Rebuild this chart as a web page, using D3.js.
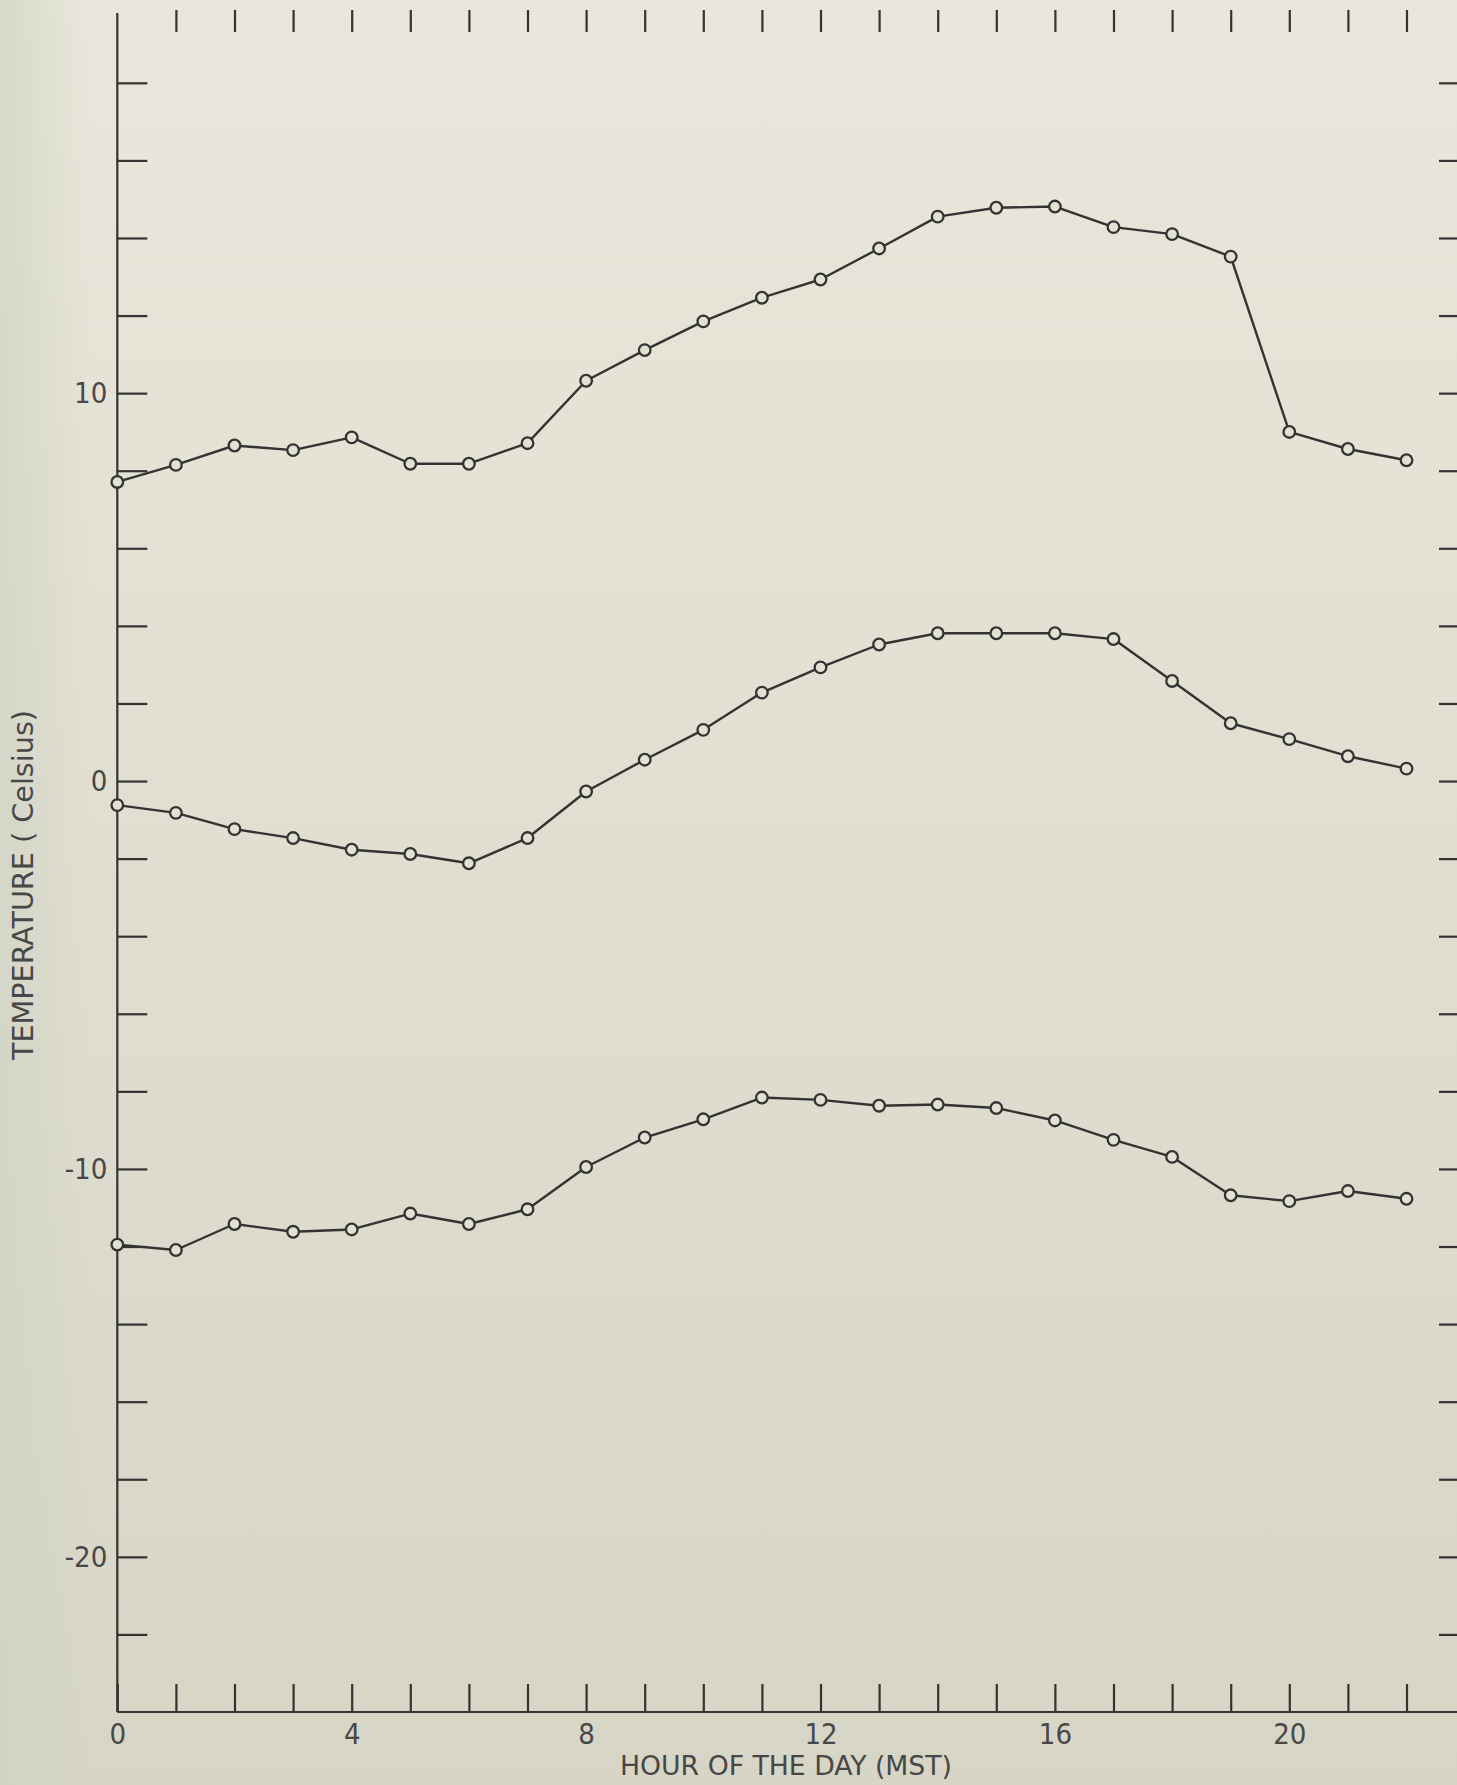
<!DOCTYPE html>
<html>
<head>
<meta charset="utf-8">
<script src="https://cdn.jsdelivr.net/npm/d3@7"></script>
<style>
  html, body { margin: 0; padding: 0; background: #e0dfd1; }
  svg { display: block; }
</style>
</head>
<body>
<svg id="chart" width="1457" height="1785"></svg>
<script>
// ---------- DATA ----------
const hours = [0, 1, 2, 3, 4, 5, 6, 7, 8, 9, 10, 11, 12, 13, 14, 15, 16, 17, 18, 19, 20, 21, 22];

const tempUpper = [7.71, 8.15, 8.65, 8.53, 8.86, 8.18, 8.18, 8.71, 10.32, 11.11, 11.85, 12.46,
                   12.93, 13.73, 14.55, 14.78, 14.81, 14.28, 14.10, 13.52, 9.00, 8.56, 8.27];

const tempMiddle = [-0.62, -0.82, -1.24, -1.47, -1.77, -1.88, -2.12, -1.47, -0.27, 0.55, 1.32, 2.28,
                    2.93, 3.52, 3.81, 3.81, 3.81, 3.66, 2.58, 1.49, 1.08, 0.64, 0.32];

const tempLower = [-11.95, -12.09, -11.42, -11.62, -11.56, -11.15, -11.42, -11.04, -9.95, -9.19, -8.72, -8.16,
                   -8.22, -8.37, -8.34, -8.43, -8.75, -9.25, -9.69, -10.68, -10.83, -10.57, -10.77];

const xTickValues = [1, 2, 3, 4, 5, 6, 7, 8, 9, 10, 11, 12, 13, 14, 15, 16, 17, 18, 19, 20, 21, 22];
const xTickLabels = [0, 4, 8, 12, 16, 20];
const yTickValues = [-22, -20, -18, -16, -14, -12, -10, -8, -6, -4, -2, 0, 2, 4, 6, 8, 10, 12, 14, 16, 18];
const yTickLabels = [-20, -10, 0, 10];

const xTitle = "HOUR OF THE DAY (MST)";
const yTitle = "TEMPERATURE ( Celsius)";

// ---------- DRAWING ----------
const W = 1457, H = 1785;
const FONT = "'Liberation Sans Narrow', 'DejaVu Sans Condensed', sans-serif";
const INK = "#333333";
const TEXT = "#474747";

const svg = d3.select("#chart");

const defs = svg.append("defs");
const grad = defs.append("linearGradient").attr("id", "bg")
  .attr("x1", 0).attr("y1", 0).attr("x2", 0).attr("y2", 1);
grad.append("stop").attr("offset", "0%").attr("stop-color", "#e9e7db");
grad.append("stop").attr("offset", "55%").attr("stop-color", "#dfddcf");
grad.append("stop").attr("offset", "100%").attr("stop-color", "#d6d5c6");
const gradL = defs.append("linearGradient").attr("id", "bgL")
  .attr("x1", 0).attr("y1", 0).attr("x2", 1).attr("y2", 0);
gradL.append("stop").attr("offset", "0%").attr("stop-color", "#cfd3c4").attr("stop-opacity", 0.7);
gradL.append("stop").attr("offset", "100%").attr("stop-color", "#cfd3c4").attr("stop-opacity", 0);

svg.append("rect").attr("width", W).attr("height", H).attr("fill", "url(#bg)");
svg.append("rect").attr("width", 90).attr("height", H).attr("fill", "url(#bgL)");

const x = d3.scaleLinear().domain([0, 22]).range([117.3, 1406.5]);
const y = d3.scaleLinear().domain([-24, 19.8]).range([1712, 13]);

// Left axis line
svg.append("line")
  .attr("x1", x(0)).attr("x2", x(0))
  .attr("y1", y(19.8)).attr("y2", y(-24))
  .attr("stroke", INK).attr("stroke-width", 2.2);

// Bottom axis line (runs to the page edge)
svg.append("line")
  .attr("x1", x(0)).attr("x2", W)
  .attr("y1", y(-24)).attr("y2", y(-24))
  .attr("stroke", INK).attr("stroke-width", 2.2);

function styleAxis(g) {
  g.select(".domain").remove();
  g.selectAll(".tick line").attr("stroke", INK).attr("stroke-width", 2.2);
  g.selectAll(".tick text")
    .attr("fill", TEXT)
    .style("font-family", FONT)
    .style("font-size", "29px");
}

// Bottom axis ticks (inward)
const xAxis = d3.axisBottom(x)
  .tickValues(xTickValues.concat([0]))
  .tickSizeInner(-28).tickSizeOuter(0).tickPadding(11)
  .tickFormat(d => xTickLabels.includes(d) ? d : "");
svg.append("g").attr("transform", `translate(0,${y(-24)})`).call(xAxis).call(styleAxis);

// Top ticks (no line)
const xAxisTop = d3.axisTop(x)
  .tickValues(xTickValues)
  .tickSizeInner(-22).tickSizeOuter(0)
  .tickFormat("");
svg.append("g").attr("transform", "translate(0,10)").call(xAxisTop).call(styleAxis);

// Left axis ticks (inward)
const yAxis = d3.axisLeft(y)
  .tickValues(yTickValues)
  .tickSizeInner(-30).tickSizeOuter(0).tickPadding(10)
  .tickFormat(d => yTickLabels.includes(d) ? d : "");
svg.append("g").attr("transform", `translate(${x(0)},0)`).call(yAxis).call(styleAxis);

// Right ticks (no line)
const yAxisRight = d3.axisRight(y)
  .tickValues(yTickValues)
  .tickSizeInner(-18).tickSizeOuter(0)
  .tickFormat("");
svg.append("g").attr("transform", `translate(${W},0)`).call(yAxisRight).call(styleAxis);

// Axis titles
svg.append("text")
  .attr("x", 620).attr("y", 1775)
  .attr("textLength", 332).attr("lengthAdjust", "spacingAndGlyphs")
  .attr("fill", TEXT)
  .style("font-family", FONT).style("font-size", "27px")
  .text(xTitle);

svg.append("text")
  .attr("transform", "translate(33,1060) rotate(-90)")
  .attr("textLength", 350).attr("lengthAdjust", "spacingAndGlyphs")
  .attr("fill", TEXT)
  .style("font-family", FONT).style("font-size", "28px")
  .text(yTitle);

// Series
const series = [tempUpper, tempMiddle, tempLower];
const line = d3.line().x((d, i) => x(hours[i])).y(d => y(d));

series.forEach(vals => {
  svg.append("path")
    .datum(vals)
    .attr("d", line)
    .attr("fill", "none")
    .attr("stroke", INK)
    .attr("stroke-width", 2.4)
    .attr("stroke-linejoin", "round");
  svg.append("g").selectAll("circle")
    .data(vals)
    .join("circle")
    .attr("cx", (d, i) => x(hours[i]))
    .attr("cy", d => y(d))
    .attr("r", 5.8)
    .attr("fill", "#e3e1d4")
    .attr("stroke", INK)
    .attr("stroke-width", 2.3);
});
</script>
</body>
</html>
